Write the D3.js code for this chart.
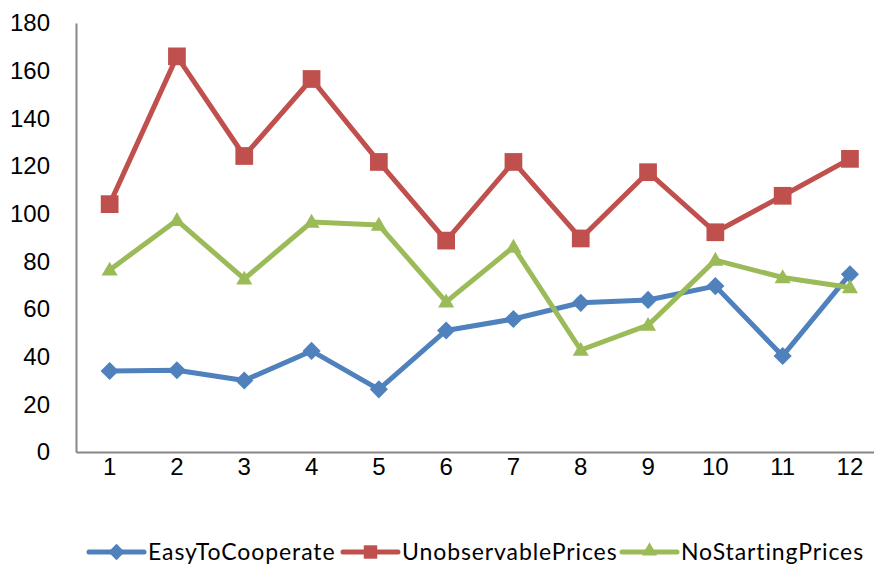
<!DOCTYPE html>
<html>
<head>
<meta charset="utf-8">
<script src="https://cdn.jsdelivr.net/npm/d3@7"></script>
<style>
  html, body { margin: 0; padding: 0; background: #fff; }
  svg { display: block; font-family: Lato, "Open Sans", sans-serif; }
</style>
</head>
<body>
<svg id="chart" width="874" height="565"></svg>
<script>
// Categories and series values
const categories = [1, 2, 3, 4, 5, 6, 7, 8, 9, 10, 11, 12];
const easyToCooperate    = [34, 34.3, 30, 42.4, 26.3, 51, 55.8, 62.6, 63.8, 69.6, 40.3, 74.6];
const unobservablePrices = [104, 166, 124.2, 156.5, 121.7, 88.7, 121.7, 89.6, 117.4, 92.2, 107.5, 123];
const noStartingPrices   = [76.4, 97.2, 72.6, 96.5, 95.2, 63, 86, 42.8, 53.2, 80.5, 73.2, 69];
const yTicks = [0, 20, 40, 60, 80, 100, 120, 140, 160, 180];

const seriesList = [
  { name: "EasyToCooperate",    values: easyToCooperate,    color: "#4F81BD", shape: "diamond" },
  { name: "UnobservablePrices", values: unobservablePrices, color: "#C0504D", shape: "square" },
  { name: "NoStartingPrices",   values: noStartingPrices,   color: "#9BBB59", shape: "triangle" }
];

const svg = d3.select("#chart");
const plotLeft = 76, plotBottom = 452, plotTop = 23;
const band = 67.3;

const x = d3.scaleBand().domain(categories).range([plotLeft, plotLeft + band * categories.length]);
const y = d3.scaleLinear().domain([0, 180]).range([plotBottom, plotTop]);
const cx = c => x(c) + x.bandwidth() / 2;

// Axes
const yAxis = svg.append("g").attr("transform", `translate(${plotLeft},0)`)
  .call(d3.axisLeft(y).tickValues(yTicks).tickSize(0).tickPadding(26));
yAxis.select(".domain").attr("stroke", "#868686").attr("stroke-width", 2);
yAxis.selectAll("text").attr("font-size", 24).attr("fill", "#000");

const xAxis = svg.append("g").attr("transform", `translate(0,${plotBottom})`)
  .call(d3.axisBottom(x).tickSize(0).tickPadding(6));
xAxis.select(".domain").attr("stroke", "#868686").attr("stroke-width", 2);
xAxis.selectAll("text").attr("font-size", 24).attr("fill", "#000");

// Marker symbols, sized by area
const symbolTypes = { diamond: d3.symbolDiamond2, square: d3.symbolSquare2, triangle: d3.symbolTriangle2 };
const markerArea = { diamond: 210, square: 400, triangle: 185 };
const legendArea = { diamond: 170, square: 230, triangle: 165 };
const symbolFor = (shape, area) => d3.symbol().type(symbolTypes[shape]).size(area)();

const line = d3.line().x((d, i) => cx(categories[i])).y(d => y(d));

seriesList.forEach(s => {
  const g = svg.append("g");
  g.append("path").datum(s.values)
    .attr("d", line)
    .attr("fill", "none")
    .attr("stroke", s.color)
    .attr("stroke-width", 5)
    .attr("stroke-linejoin", "round");
  g.selectAll("path.marker").data(s.values).join("path")
    .attr("class", "marker")
    .attr("transform", (d, i) => `translate(${cx(categories[i])},${y(d) + (s.shape === "triangle" ? 1 : 0)})`)
    .attr("d", symbolFor(s.shape, markerArea[s.shape]))
    .attr("fill", s.color);
});

// Legend
const legendY = 552;
const legendStarts = [89, 343, 622];
seriesList.forEach((s, i) => {
  const g = svg.append("g").attr("transform", `translate(${legendStarts[i]},${legendY})`);
  g.append("line").attr("x1", 0).attr("x2", 55).attr("y1", 0).attr("y2", 0)
    .attr("stroke", s.color).attr("stroke-width", 5).attr("stroke-linecap", "round");
  g.append("path").attr("transform", `translate(27.5,${s.shape === "triangle" ? -1 : 0})`)
    .attr("d", symbolFor(s.shape, legendArea[s.shape])).attr("fill", s.color);
  g.append("text").attr("x", 59).attr("y", 0).attr("dy", "0.35em")
    .attr("font-size", 23).attr("letter-spacing", 0.9).attr("fill", "#000").text(s.name);
});
</script>
</body>
</html>
